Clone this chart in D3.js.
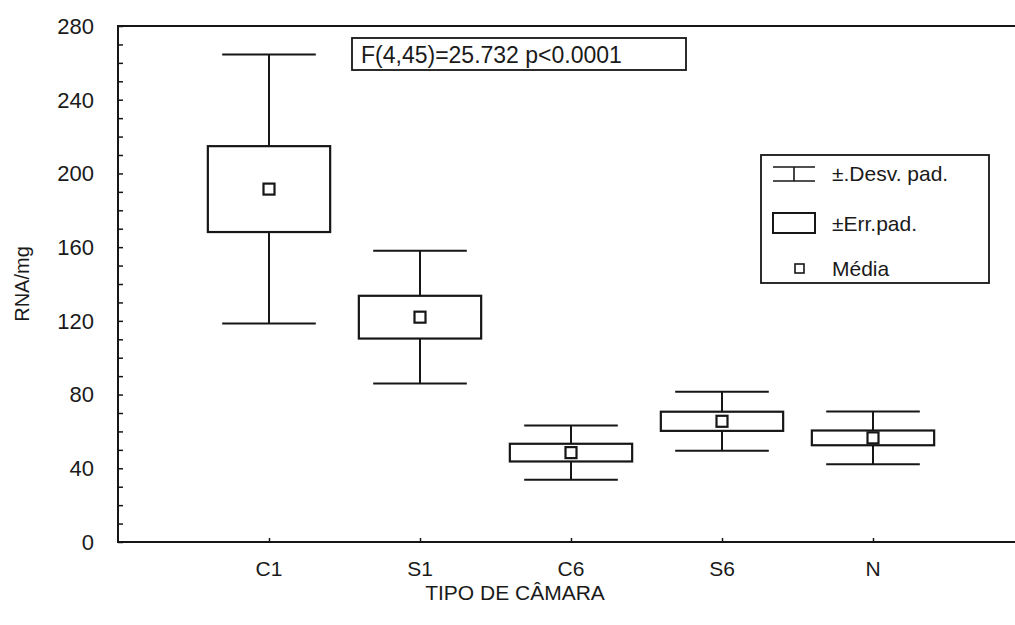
<!DOCTYPE html>
<html>
<head>
<meta charset="utf-8">
<script src="https://cdn.jsdelivr.net/npm/d3@7"></script>
<style>
  html, body { margin: 0; padding: 0; background: #fff; }
  svg { display: block; }
  text { font-family: "Liberation Sans", Arial, sans-serif; fill: #1a1a1a; }
</style>
</head>
<body>
<svg id="chart" width="1015" height="625"></svg>
<script>
// RNA/mg by chamber type: mean, ±standard error (box), ±standard deviation (whiskers)
const categories = ["C1", "S1", "C6", "S6", "N"];
const means      = [191.5, 122.0, 48.5, 65.5, 56.5];
const stdErr     = [23.3, 11.6, 4.8, 5.2, 4.0];
const stdDev     = [73.0, 36.0, 14.7, 16.0, 14.3];
const yTicks     = [0, 40, 80, 120, 160, 200, 240, 280];
const statText   = "F(4,45)=25.732 p<0.0001";
const legendItems = ["±.Desv. pad.", "±Err.pad.", "Média"];

const svg = d3.select("#chart");
const ink = "#161616";

const plot = { left: 118, right: 1024, top: 26, bottom: 542 };

const x = d3.scalePoint()
  .domain(categories)
  .range([plot.left, plot.right])
  .padding(1);

const y = d3.scaleLinear()
  .domain([0, 280])
  .range([plot.bottom, plot.top]);

const step = x.step();
const boxW = step * 0.81;
const capW = step * 0.62;

// frame (left, top, bottom; right side runs off the page)
svg.append("rect")
  .attr("x", plot.left).attr("y", plot.top)
  .attr("width", plot.right - plot.left).attr("height", plot.bottom - plot.top)
  .attr("fill", "none").attr("stroke", ink).attr("stroke-width", 2);

// y axis: inward ticks, minor every 10
const yAxis = d3.axisRight(y)
  .tickValues(d3.range(0, 281, 10))
  .tickSize(5)
  .tickFormat("");
const gy = svg.append("g")
  .attr("transform", `translate(${plot.left},0)`)
  .call(yAxis);
gy.select(".domain").remove();
gy.selectAll(".tick line").attr("stroke", ink).attr("stroke-width", 1.5);

svg.append("g").selectAll("text")
  .data(yTicks)
  .join("text")
  .attr("x", plot.left - 24)
  .attr("y", d => y(d))
  .attr("dy", "0.36em")
  .attr("text-anchor", "end")
  .attr("font-size", 22)
  .text(d => d);

// x axis: inward ticks at each category
const xAxis = d3.axisTop(x).tickSize(4).tickFormat("");
const gx = svg.append("g")
  .attr("transform", `translate(0,${plot.bottom})`)
  .call(xAxis);
gx.select(".domain").remove();
gx.selectAll(".tick line").attr("stroke", ink).attr("stroke-width", 1.5);

svg.append("g").selectAll("text")
  .data(categories)
  .join("text")
  .attr("x", d => x(d))
  .attr("y", plot.bottom + 34)
  .attr("text-anchor", "middle")
  .attr("font-size", 21)
  .text(d => d);

// axis titles
svg.append("text")
  .attr("transform", `translate(29,${(plot.top + plot.bottom) / 2}) rotate(-90)`)
  .attr("text-anchor", "middle")
  .attr("font-size", 20)
  .text("RNA/mg");

svg.append("text")
  .attr("x", 515)
  .attr("y", 600)
  .attr("text-anchor", "middle")
  .attr("font-size", 21)
  .text("TIPO DE CÂMARA");

// groups
const rows = categories.map((c, i) => ({ c, m: means[i], se: stdErr[i], sd: stdDev[i] }));
const g = svg.append("g").selectAll("g").data(rows).join("g");

// whisker stems
g.append("line")
  .attr("x1", d => x(d.c)).attr("x2", d => x(d.c))
  .attr("y1", d => y(d.m + d.sd)).attr("y2", d => y(d.m - d.sd))
  .attr("stroke", ink).attr("stroke-width", 2);

// whisker caps
[1, -1].forEach(s => {
  g.append("line")
    .attr("x1", d => x(d.c) - capW / 2).attr("x2", d => x(d.c) + capW / 2)
    .attr("y1", d => y(d.m + s * d.sd)).attr("y2", d => y(d.m + s * d.sd))
    .attr("stroke", ink).attr("stroke-width", 2);
});

// standard error boxes
g.append("rect")
  .attr("x", d => x(d.c) - boxW / 2)
  .attr("y", d => y(d.m + d.se))
  .attr("width", boxW)
  .attr("height", d => y(d.m - d.se) - y(d.m + d.se))
  .attr("fill", "#fff").attr("stroke", ink).attr("stroke-width", 2.2);

// mean markers
g.append("rect")
  .attr("x", d => x(d.c) - 5.5)
  .attr("y", d => y(d.m) - 5.5)
  .attr("width", 11).attr("height", 11)
  .attr("fill", "#fff").attr("stroke", ink).attr("stroke-width", 2.2);

// statistic box
svg.append("rect")
  .attr("x", 352).attr("y", 38).attr("width", 334).attr("height", 32)
  .attr("fill", "#fff").attr("stroke", ink).attr("stroke-width", 1.8);
svg.append("text")
  .attr("x", 361).attr("y", 63)
  .attr("font-size", 23)
  .text(statText);

// legend
const lg = svg.append("g");
lg.append("rect")
  .attr("x", 761).attr("y", 155).attr("width", 228).attr("height", 128)
  .attr("fill", "#fff").attr("stroke", ink).attr("stroke-width", 1.8);

const symX = 794, rowY = [173, 223, 268];
// error-bar symbol
lg.append("line").attr("x1", symX).attr("x2", symX).attr("y1", rowY[0] - 6).attr("y2", rowY[0] + 8)
  .attr("stroke", ink).attr("stroke-width", 1.6);
[rowY[0] - 6, rowY[0] + 8].forEach(yy => {
  lg.append("line").attr("x1", symX - 21).attr("x2", symX + 21).attr("y1", yy).attr("y2", yy)
    .attr("stroke", ink).attr("stroke-width", 1.6);
});
// box symbol
lg.append("rect").attr("x", symX - 21).attr("y", rowY[1] - 10).attr("width", 42).attr("height", 20)
  .attr("fill", "#fff").attr("stroke", ink).attr("stroke-width", 2);
// mean symbol
lg.append("rect").attr("x", symX + 1).attr("y", rowY[2] - 4).attr("width", 9).attr("height", 9)
  .attr("fill", "#fff").attr("stroke", ink).attr("stroke-width", 1.6);

lg.selectAll("text.item")
  .data(legendItems)
  .join("text")
  .attr("class", "item")
  .attr("x", 832)
  .attr("y", (d, i) => rowY[i])
  .attr("dy", "0.36em")
  .attr("font-size", 21)
  .text(d => d);
</script>
</body>
</html>
